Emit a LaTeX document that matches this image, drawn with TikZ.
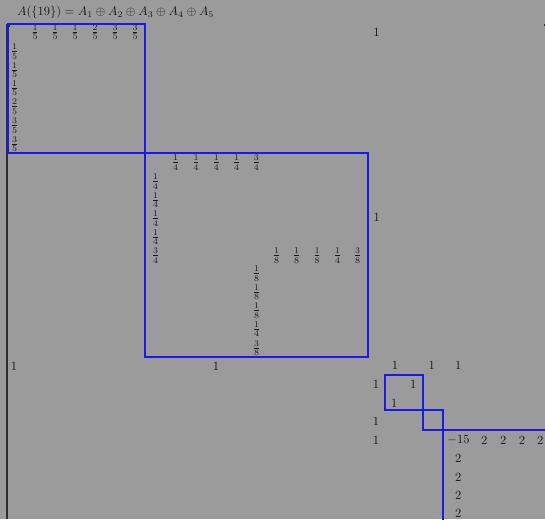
\documentclass[tikz,border=0pt]{standalone}
\usepackage{graphicx}
\definecolor{bg}{RGB}{155,155,155}
\definecolor{boxblue}{RGB}{25,25,235}
\definecolor{ink}{RGB}{25,25,25}
\definecolor{brk}{RGB}{45,45,45}
\newcommand{\Ent}[1]{\scalebox{1.25}{$#1$}}
\begin{document}
\begin{tikzpicture}[x=1pt,y=-1pt,
  ent/.style={inner sep=0pt,text=ink},
  blk/.style={draw=boxblue,line width=2pt},
  brack/.style={draw=brk,line width=1.1pt}]
\useasboundingbox (0,0) rectangle (545,519);
\fill[bg] (0,0) rectangle (545,519);
% left bracket
\draw[brack] (7,24) -- (7,519);
\draw[brack] (7,26) -- (10,26);
\draw[brack] (543.5,25) -- (545,25);
% title
\node[ent,anchor=base west] (title) at (17,16) {\Ent{A(\{19\}) = A_1 \oplus A_2 \oplus A_3 \oplus A_4 \oplus A_5}};
% block A1
\foreach \v [count=\i] in {1,1,1,2,3,3}
  \node[ent] (a1r\i) at ({15+20*\i},32.5) {\Ent{\frac{\v}{5}}};
\foreach \v/\y [count=\i] in {1/51.7,1/70,1/88.3,2/106.7,3/125.7,3/144}
  \node[ent] (a1c\i) at (14.5,\y) {\Ent{\frac{\v}{5}}};
% block A2
\foreach \v/\x [count=\i] in {1/175.7,1/196,1/216.3,1/236.7,3/256.3}
  \node[ent] (a2r\i) at (\x,162.7) {\Ent{\frac{\v}{4}}};
\foreach \v/\y [count=\i] in {1/181.7,1/200,1/218.7,1/237,3/255.7}
  \node[ent] (a2c\i) at (155.7,\y) {\Ent{\frac{\v}{4}}};
\foreach \v/\w/\x [count=\i] in {1/8/276.7,1/8/296.7,1/8/317,1/4/337.7,3/8/357.7}
  \node[ent] (a2s\i) at (\x,255.7) {\Ent{\frac{\v}{\w}}};
\foreach \v/\w/\y [count=\i] in {1/8/273.7,1/8/292.3,1/8/310.7,1/4/329.3,3/8/348}
  \node[ent] (a2t\i) at (256.7,\y) {\Ent{\frac{\v}{\w}}};
% ones outside blocks
\node[ent] (o1) at (376.5,32) {\Ent{1}};
\node[ent] (o2) at (376.7,217.7) {\Ent{1}};
\node[ent] (o3) at (14,366) {\Ent{1}};
\node[ent] (o4) at (216,366) {\Ent{1}};
\node[ent] (o5) at (395,365.7) {\Ent{1}};
\node[ent] (o6) at (431.7,365.7) {\Ent{1}};
\node[ent] (o7) at (458.3,365.7) {\Ent{1}};
\node[ent] (o8) at (376,384.3) {\Ent{1}};
\node[ent] (o9) at (413.3,384.3) {\Ent{1}};
\node[ent] (o10) at (394.3,403.3) {\Ent{1}};
\node[ent] (o11) at (376,421) {\Ent{1}};
\node[ent] (o12) at (376,440) {\Ent{1}};
% block A5
\node[ent] (m15) at (458.6,440) {\Ent{-15}};
\foreach \x [count=\i] in {484.3,503.3,522,540.3}
  \node[ent] (tr\i) at (\x,440) {\Ent{2}};
\foreach \y [count=\i] in {458.3,477.3,495.7,513.3}
  \node[ent] (tc\i) at (458.3,\y) {\Ent{2}};
% blue block frames
\draw[blk] (8,24) rectangle (145,153);
\draw[blk] (145,153) rectangle (368,357);
\draw[blk] (385,375) rectangle (423,410);
\draw[blk] (423,410) rectangle (443,430);
\draw[blk] (443,540) -- (443,430) -- (560,430);
\end{tikzpicture}
\end{document}
